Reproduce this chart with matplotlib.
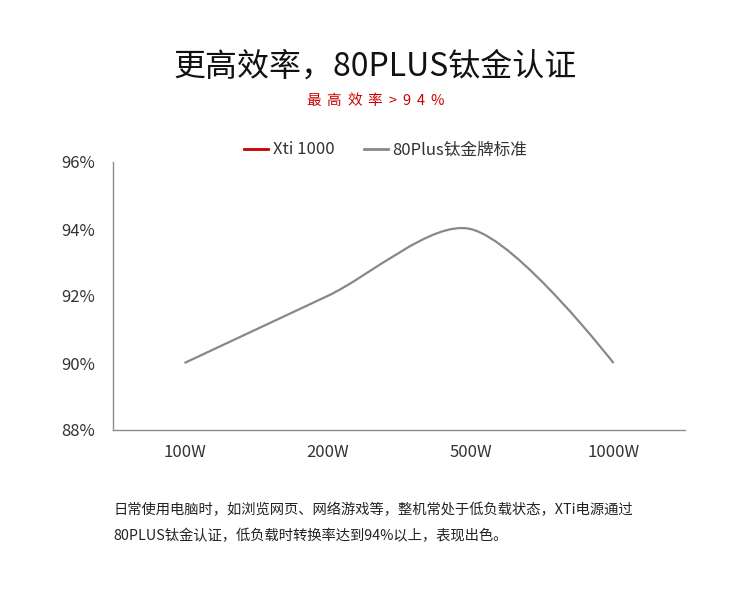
import matplotlib
matplotlib.use("Agg")
import matplotlib.pyplot as plt
from matplotlib.path import Path
from matplotlib.patches import PathPatch
from matplotlib.lines import Line2D
import numpy as np

plt.rcParams['font.family'] = ['Noto Sans CJK SC', 'DejaVu Sans']

categories = ['100W', '200W', '500W', '1000W']
titanium_std = [90, 92, 94, 90]
xti_1000 = []  # no visible line in the reference
y_ticks = [88, 90, 92, 94, 96]
y_tick_labels = ['88%', '90%', '92%', '94%', '96%']

title = '更高效率，80PLUS钛金认证'
subtitle = '最高效率>94%'
note_lines = ['日常使用电脑时，如浏览网页、网络游戏等，整机常处于低负载状态，XTi电源通过',
              '80PLUS钛金认证，低负载时转换率达到94%以上，表现出色。']

RED = '#c80000'
GRAY = '#888888'
AXIS = '#8c8c8c'
TXT = '#333333'

fig = plt.figure(figsize=(7.5, 6), dpi=100)
ax = fig.add_axes([113/750, 1-430/600, 572/750, 268/600])
ax.set_xlim(-0.5, len(categories) - 0.5)
ax.set_ylim(88, 96)


def smooth_path(ax, xs, ys, s=0.3):
    # ECharts-like bezier smoothing computed in pixel space
    trans = ax.transData
    pts = trans.transform(np.column_stack([xs, ys]))
    n = len(pts)
    verts = [tuple(pts[0])]
    codes = [Path.MOVETO]
    cp0 = pts[0].copy()
    for i in range(1, n):
        p = pts[i]
        prev = pts[i-1]
        if i == n - 1:
            cp1 = p.copy()
            nxt_cp0 = p.copy()
        else:
            nxt = pts[i+1]
            v = nxt - prev
            lp = np.hypot(*(p - prev))
            ln = np.hypot(*(nxt - p))
            r = ln / (ln + lp)
            cp1 = p - v * s * (1 - r)
            nxt_cp0 = p + v * s * r
        verts += [tuple(cp0), tuple(cp1), tuple(p)]
        codes += [Path.CURVE4] * 3
        cp0 = nxt_cp0
    inv = trans.inverted()
    verts = inv.transform(np.array(verts))
    return Path(verts, codes)


xs = np.arange(len(categories))
path = smooth_path(ax, xs, titanium_std)
ax.add_patch(PathPatch(path, facecolor='none', edgecolor=GRAY, lw=1.6,
                       capstyle='butt', joinstyle='round', zorder=3))

for side in ['top', 'right']:
    ax.spines[side].set_visible(False)
for side in ['left', 'bottom']:
    ax.spines[side].set_color(AXIS)
    ax.spines[side].set_linewidth(1.0)

ax.set_xticks(xs)
ax.set_xticklabels(categories)
ax.set_yticks(y_ticks)
ax.set_yticklabels(y_tick_labels)
ax.tick_params(axis='both', length=0, labelsize=12, colors=TXT)
ax.tick_params(axis='y', pad=13)
ax.tick_params(axis='x', pad=10)

fig.text(0.5, 1-67/600, title, ha='center', va='center', fontsize=23, color='#111111')

# subtitle with letter spacing
renderer = fig.canvas.get_renderer()
sub_size = 10.5
spacing_px = 6.0
widths = []
for ch in subtitle:
    t = fig.text(0, 0, ch, fontsize=sub_size)
    widths.append(t.get_window_extent(renderer).width)
    t.remove()
total = sum(widths) + spacing_px * (len(subtitle) - 1)
x = 375 - total / 2
for ch, w in zip(subtitle, widths):
    fig.text(x / 750, 1 - 101/600, ch, ha='left', va='center', fontsize=sub_size, color=RED)
    x += w + spacing_px

handles = [Line2D([], [], color=RED, lw=2),
           Line2D([], [], color=GRAY, lw=2)]
fig.legend(handles, ['Xti 1000', '80Plus钛金牌标准'], loc='center',
           bbox_to_anchor=(386/750, 1-150/600), ncol=2, frameon=False,
           fontsize=12, handlelength=1.4, handletextpad=0.3, columnspacing=1.8,
           labelcolor=TXT)

fig.text(113/750, 1-510/600, note_lines[0], ha='left', va='center', fontsize=10.3, color='#222222')
fig.text(113/750, 1-536/600, note_lines[1], ha='left', va='center', fontsize=10.3, color='#222222')

fig.savefig('out.png', dpi=100, facecolor='white')
